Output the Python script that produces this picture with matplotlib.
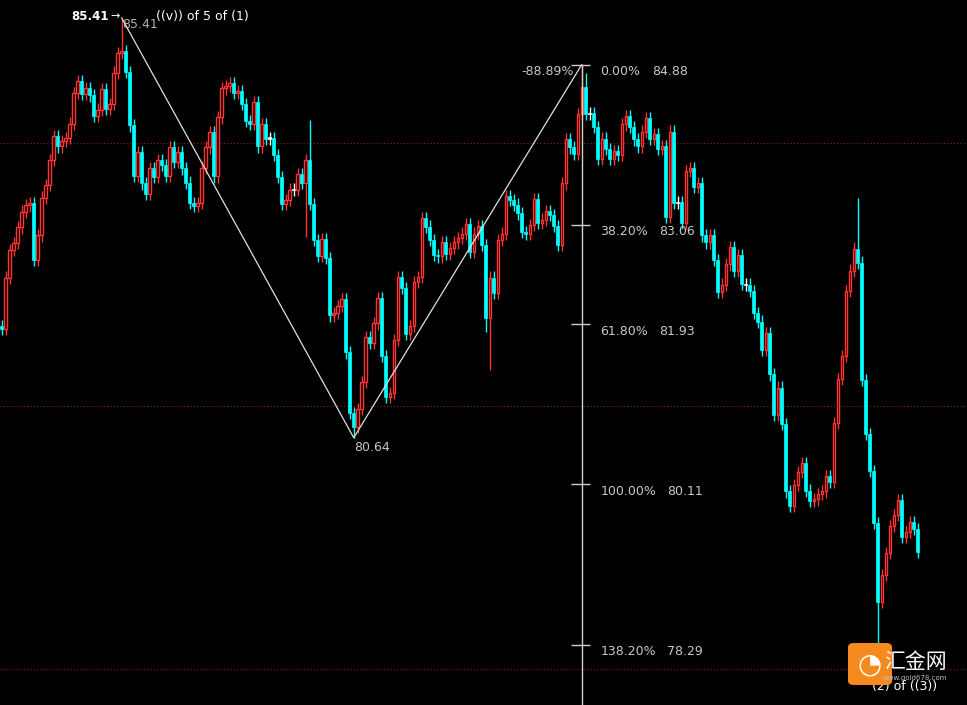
import matplotlib
matplotlib.use("Agg")
import matplotlib.pyplot as plt
from matplotlib.patches import FancyBboxPatch

plt.rcParams['font.family'] = ['DejaVu Sans', 'Noto Sans CJK SC']

closes = [
 81.88,82.46,82.77,82.85,83.03,83.21,83.28,83.31,82.66,82.94,83.37,83.51,83.80,84.07,83.95,84.01,84.05,84.21,84.56,84.69,
 84.55,84.61,84.53,84.30,84.37,84.60,84.38,84.43,84.79,85.01,85.03,84.80,84.19,83.62,83.89,83.53,83.41,83.70,83.60,83.80,
 83.74,83.62,83.94,83.77,83.89,83.70,83.54,83.31,83.27,83.31,83.71,83.94,84.11,83.61,84.28,84.61,84.64,84.67,84.56,84.58,
 84.43,84.24,84.21,84.45,83.95,84.20,84.04,84.05,83.85,83.60,83.30,83.34,83.46,83.46,83.64,83.54,83.80,83.30,82.89,82.71,
 82.90,82.68,82.03,
 82.06,82.14,82.22,81.61,80.92,80.76,80.97,81.27,81.78,81.72,81.94,82.23,81.57,81.10,81.15,81.75,82.47,82.34,81.82,81.91,
 82.41,82.47,83.14,83.04,82.89,82.72,82.70,82.86,82.73,82.80,82.86,82.91,82.96,83.07,82.75,82.96,83.05,82.83,82.00,82.46,
 82.29,82.89,82.96,83.39,83.34,83.29,83.19,82.98,82.96,83.06,83.35,83.08,83.12,83.22,83.17,83.05,82.83,83.53,84.03,83.94,
 83.87,84.32,84.63,84.32,84.33,
 84.17,83.81,84.04,83.92,83.81,83.90,83.85,84.20,84.30,84.17,84.03,83.95,84.12,84.27,84.04,84.09,83.92,83.95,83.15,84.12,
 83.31,83.32,83.08,83.67,83.70,83.49,83.53,82.94,82.86,82.94,82.66,82.30,82.38,82.61,82.81,82.54,82.72,82.39,82.38,82.31,
 82.06,81.96,81.64,81.83,81.36,80.90,81.21,80.80,80.03,79.87,80.10,80.25,80.35,80.04,79.92,79.94,80.00,80.03,80.20,80.14,
 80.81,81.31,81.57,82.31,82.54,82.79,82.63,81.30,80.68,80.26,79.67,78.77,79.08,79.33,79.64,79.76,79.93,79.51,79.57,79.68,
 79.60,79.34]
first_open = 81.91
opens = [first_open] + closes[:-1]
wick = 0.07
high_override = {30: 85.41, 77: 84.25, 145: 84.88, 214: 83.37, 146: 84.78}
low_override = {88: 80.64, 121: 81.84, 122: 81.41, 219: 78.29, 76: 82.92}

fib_pct = ["0.00%", "38.20%", "61.80%", "100.00%", "138.20%"]
fib_val = [84.88, 83.06, 81.93, 80.11, 78.29]
grid_levels = [83.99, 81.00, 78.01]
zig_idx = [30, 88, 145]
zig_val = [85.41, 80.64, 84.88]

fig = plt.figure(figsize=(9.67, 7.05), dpi=100, facecolor='black')
ax = fig.add_axes([0, 0, 1, 1])
ax.set_facecolor('black')
ax.set_xlim(-0.425, 241.3)
ax.set_ylim(77.603, 85.6145)
ax.axis('off')

for g in grid_levels:
    ax.axhline(g, color='#8b1a1a', lw=0.8, ls=(0, (1, 2)))

RED = '#ff3333'
CYAN = '#00ffff'
for i, (o, c) in enumerate(zip(opens, closes)):
    h = high_override.get(i, max(o, c) + wick)
    l = low_override.get(i, min(o, c) - wick)
    if abs(c - o) < 0.015:
        col = 'white'
    elif c > o:
        col = RED
    else:
        col = CYAN
    ax.vlines(i, l, h, color=col, lw=1, zorder=2)
    bot = min(o, c)
    ht = max(abs(c - o), 0.012)
    if col == RED:
        ax.bar(i, ht, bottom=bot, width=0.62, facecolor='black', edgecolor=RED, lw=1, zorder=3)
    else:
        ax.bar(i, ht, bottom=bot, width=0.7, facecolor=col, edgecolor=col, lw=0.5, zorder=3)

# zigzag
ax.plot(zig_idx, zig_val, color='#e0e0e0', lw=0.9, zorder=4)

# fibonacci
fx = zig_idx[2]
ax.vlines(fx, 77.0, fib_val[0], color='#d0d0d0', lw=1, zorder=4)
tc = '#c8c8c8'
val_off = [51, 56, 56, 61.5, 61.5]
for p, v, vo in zip(fib_pct, fib_val, val_off):
    ax.hlines(v, fx - 2.6, fx + 2.1, color='#d0d0d0', lw=1, zorder=4)
    ax.annotate(p, (fx, v), xytext=(13.5, -5), textcoords='offset points', color=tc,
                fontsize=9, va='center', ha='left')
    ax.annotate(f"{v:.2f}", (fx, v), xytext=(vo, -5),
                textcoords='offset points', color=tc, fontsize=9, va='center', ha='left')

ax.annotate("-88.89%", (fx, fib_val[0]), xytext=(-6, -5), textcoords='offset points',
            color=tc, fontsize=9, va='center', ha='right')
ax.annotate("80.64", (zig_idx[1], zig_val[1]), xytext=(0, -7), textcoords='offset points',
            color=tc, fontsize=9, va='center', ha='left')
ax.annotate("85.41", (zig_idx[0], zig_val[0]), xytext=(-9, 1), textcoords='offset points',
            color='white', fontsize=8.5, fontweight='bold', va='center', ha='right')
ax.annotate("→", (zig_idx[0], zig_val[0]), xytext=(-8.5, 1), textcoords='offset points',
            color='white', fontsize=8, va='center', ha='left')
ax.annotate("85.41", (zig_idx[0], zig_val[0]), xytext=(0, -5), textcoords='offset points',
            color='#b0b0b0', fontsize=9, va='center', ha='left')
ax.annotate("((v)) of 5 of (1)", (zig_idx[0], zig_val[0]), xytext=(25, 1), textcoords='offset points',
            color='white', fontsize=9, va='center', ha='left')
ax.annotate("(2) of ((3))", (219, 78.29), xytext=(-4, -30), textcoords='offset points',
            color='white', fontsize=9, va='center', ha='left')

# logo
logo = FancyBboxPatch((848 / 967, 20 / 705), 44 / 967, 42 / 705, boxstyle="round,pad=0,rounding_size=0.006",
                      transform=fig.transFigure, facecolor='#f58a1f', edgecolor='none', zorder=5)
fig.patches.append(logo)
fig.text(870 / 967, 41 / 705, "◔", color='white', fontsize=20, ha='center', va='center', zorder=6,
         family=['DejaVu Sans'])
fig.text(915 / 967, 43 / 705, "汇金网", color='white', fontsize=15, ha='center', va='center',
         family=['Noto Sans CJK SC', 'DejaVu Sans'], zorder=6)
fig.text(915 / 967, 27 / 705, "www.gold678.com", color='#bbbbbb', fontsize=5, ha='center', va='center', zorder=6)

fig.savefig("out.png", dpi=100, facecolor='black')
